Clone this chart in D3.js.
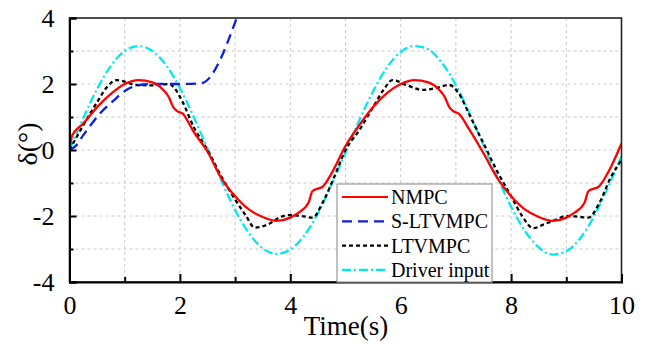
<!DOCTYPE html>
<html>
<head>
<meta charset="utf-8">
<script src="https://cdn.jsdelivr.net/npm/d3@7"></script>
<style>
  body { margin: 0; background: #fff; }
  svg { display: block; }
  text { font-family: "Liberation Serif", "Times New Roman", serif; fill: #000; }
</style>
</head>
<body>
<svg id="chart" width="650" height="344"></svg>
<script>
// values
var tNMPC = [0, 0.05, 0.25, 0.5, 0.75, 1.0, 1.25, 1.5, 1.7, 1.8, 1.88, 1.95, 2.05, 2.25, 2.5, 2.75, 3.0, 3.25, 3.5, 3.75, 4.0, 4.15, 4.33, 4.4, 4.5, 4.58, 4.75, 5.0,
  5.25, 5.5, 5.75, 6.0, 6.25, 6.5, 6.7, 6.8, 6.88, 6.95, 7.05, 7.25, 7.5, 7.75, 8.0, 8.25, 8.5, 8.75, 9.0, 9.15, 9.33, 9.4, 9.5, 9.58, 9.75, 10.0];
var vNMPC = [0, 0.45, 0.8, 1.3, 1.7, 2.0, 2.12, 2.05, 1.82, 1.6, 1.3, 1.18, 1.1, 0.55, -0.05, -0.85, -1.4, -1.8, -2.03, -2.15, -2.05, -1.9, -1.6, -1.25, -1.17, -1.12, -0.7, 0.12,
  0.75, 1.3, 1.72, 2.0, 2.12, 2.05, 1.82, 1.6, 1.3, 1.18, 1.1, 0.6, -0.1, -0.85, -1.4, -1.8, -2.03, -2.15, -2.05, -1.9, -1.6, -1.25, -1.17, -1.12, -0.7, 0.2];

var tSLTV = [0, 0.1, 0.25, 0.55, 0.8, 1.03, 1.27, 1.5, 2.0, 2.38, 3.05];
var vSLTV = [0, 0.1, 0.45, 1.1, 1.5, 1.82, 1.97, 2.0, 2.0, 2.02, 4.1];

var tLTV = [0, 0.25, 0.5, 0.7, 0.85, 1.0, 1.2, 1.5, 1.8, 1.9, 2.05, 2.25, 2.5, 2.75, 3.0, 3.2, 3.35, 3.6, 3.8, 4.0, 4.2, 4.4, 4.6, 4.8, 5.0,
  5.25, 5.5, 5.7, 5.85, 6.1, 6.4, 6.65, 6.88, 7.05, 7.25, 7.5, 7.75, 8.0, 8.2, 8.4, 8.6, 8.8, 9.0, 9.2, 9.4, 9.6, 9.8, 10.0];
var vLTV = [0, 0.75, 1.45, 1.95, 2.12, 2.07, 1.97, 1.96, 2.0, 1.88, 1.45, 0.7, 0.0, -0.8, -1.5, -2.0, -2.35, -2.25, -2.05, -1.97, -2.0, -2.05, -1.55, -0.8, 0.0,
  0.6, 1.3, 1.85, 2.12, 1.97, 1.82, 1.88, 1.97, 1.72, 1.05, 0.2, -0.65, -1.4, -2.0, -2.37, -2.25, -2.12, -2.0, -2.02, -2.05, -1.6, -0.85, -0.3];

var tDriver = [0, 0.25, 0.5, 0.75, 1.0, 1.25, 1.5, 1.75, 2.0, 2.25, 2.5, 2.75, 3.0, 3.25, 3.5, 3.75, 4.0, 4.25, 4.5, 4.75, 5.0,
  5.25, 5.5, 5.75, 6.0, 6.25, 6.5, 6.75, 7.0, 7.25, 7.5, 7.75, 8.0, 8.25, 8.5, 8.75, 9.0, 9.25, 9.5, 9.75, 10.0];
var vDriver = [0, 0.97, 1.85, 2.55, 3.0, 3.15, 3.0, 2.57, 1.88, 1.0, 0.05, -0.92, -1.82, -2.52, -2.98, -3.15, -3.02, -2.6, -1.92, -1.03, -0.08,
  0.9, 1.78, 2.5, 2.97, 3.15, 3.05, 2.63, 1.97, 1.1, 0.15, -0.82, -1.72, -2.45, -2.95, -3.17, -3.07, -2.68, -2.02, -1.15, -0.2];

var seriesNames = ["NMPC", "S-LTVMPC", "LTVMPC", "Driver input"];
var xTicks = [0, 2, 4, 6, 8, 10];
var yTicks = [-4, -2, 0, 2, 4];

var svg = d3.select("#chart");
var pL = 69.5, pR = 621.5, pT = 18, pB = 282;
var serif = "'Liberation Serif', 'Times New Roman', serif";

var x = d3.scaleLinear().domain([0, 10]).range([pL, pR]);
var y = d3.scaleLinear().domain([-4, 4]).range([pB, pT]);

svg.append("defs").append("clipPath").attr("id", "plotclip")
  .append("rect").attr("x", pL).attr("y", pT).attr("width", pR - pL).attr("height", pB - pT);

// grid
var grid = svg.append("g");
grid.selectAll(".gx").data(d3.range(1, 10)).enter().append("line")
  .attr("x1", function(d) { return x(d); }).attr("x2", function(d) { return x(d); })
  .attr("y1", pT).attr("y2", pB)
  .attr("stroke", "#c8c8c8").attr("stroke-width", 1).attr("stroke-dasharray", "3,3");
grid.selectAll(".gy").data(d3.range(-3, 4)).enter().append("line")
  .attr("y1", function(d) { return y(d); }).attr("y2", function(d) { return y(d); })
  .attr("x1", pL).attr("x2", pR)
  .attr("stroke", "#c8c8c8").attr("stroke-width", 1).attr("stroke-dasharray", "3,3");

var series = [
  { name: "Driver input", t: tDriver, v: vDriver, color: "#00e8f0", dash: "9,3,2,3" },
  { name: "LTVMPC", t: tLTV, v: vLTV, color: "#000", dash: "4,3" },
  { name: "S-LTVMPC", t: tSLTV, v: vSLTV, color: "#0a1ee6", dash: "10,6" },
  { name: "NMPC", t: tNMPC, v: vNMPC, color: "#ff0000", dash: null }
];

var line = d3.line()
  .x(function(d) { return x(d[0]); })
  .y(function(d) { return y(d[1]); })
  .curve(d3.curveMonotoneX);

var plot = svg.append("g").attr("clip-path", "url(#plotclip)");
series.forEach(function(s) {
  var pts = s.t.map(function(t, i) { return [t, s.v[i]]; });
  plot.append("path").datum(pts)
    .attr("d", line)
    .attr("fill", "none")
    .attr("stroke", s.color)
    .attr("stroke-width", 2.3)
    .attr("stroke-dasharray", s.dash);
});

// frame
svg.append("rect").attr("x", pL).attr("y", pT).attr("width", pR - pL).attr("height", pB - pT)
  .attr("fill", "none").attr("stroke", "#222").attr("stroke-width", 1.6);

// axes with inward ticks
var xAxis = d3.axisBottom(x).tickValues(d3.range(0, 11)).tickSize(-8).tickPadding(14)
  .tickFormat(function(d) { return xTicks.indexOf(d) >= 0 ? d : ""; });
var gx = svg.append("g").attr("transform", "translate(0," + pB + ")").call(xAxis);
gx.selectAll(".tick line").attr("y2", function(d) { return d % 2 === 0 ? -8 : -5; });

var yAxis = d3.axisLeft(y).tickValues(d3.range(-4, 5)).tickSize(-7).tickPadding(15)
  .tickFormat(function(d) { return yTicks.indexOf(d) >= 0 ? d : ""; });
var gy = svg.append("g").attr("transform", "translate(" + pL + ",0)").call(yAxis);
gy.selectAll(".tick line").attr("x2", function(d) { return d % 2 === 0 ? 7 : 4; });

[gx, gy].forEach(function(g) {
  g.attr("font-family", null).style("font-family", serif);
  g.select(".domain").attr("stroke", "#000").attr("stroke-width", 2);
  g.selectAll(".tick line").attr("stroke", "#000").attr("stroke-width", 2);
  g.selectAll(".tick text").attr("font-size", 26).style("font-family", serif).attr("fill", "#000");
});
gy.selectAll(".tick text").attr("dy", "0.34em");

// axis titles
svg.append("text").attr("x", 346).attr("y", 335).attr("text-anchor", "middle")
  .attr("font-size", 27).text("Time(s)");
svg.append("text").attr("transform", "translate(37,144) rotate(-90)").attr("text-anchor", "middle")
  .attr("font-size", 28).text("δ(°)");

// legend
var leg = svg.append("g");
leg.append("rect").attr("x", 337).attr("y", 184).attr("width", 155).attr("height", 98)
  .attr("fill", "#fff").attr("stroke", "#999").attr("stroke-width", 1.2);
var legOrder = seriesNames.map(function(n) { return series.filter(function(s) { return s.name === n; })[0]; });
legOrder.forEach(function(s, i) {
  var yy = 197 + i * 24.3;
  leg.append("line").attr("x1", 342).attr("x2", 388).attr("y1", yy).attr("y2", yy)
    .attr("stroke", s.color).attr("stroke-width", 2.2).attr("stroke-dasharray", s.dash);
  leg.append("text").attr("x", 391).attr("y", yy + 7).attr("font-size", 20).text(s.name);
});
</script>
</body>
</html>
